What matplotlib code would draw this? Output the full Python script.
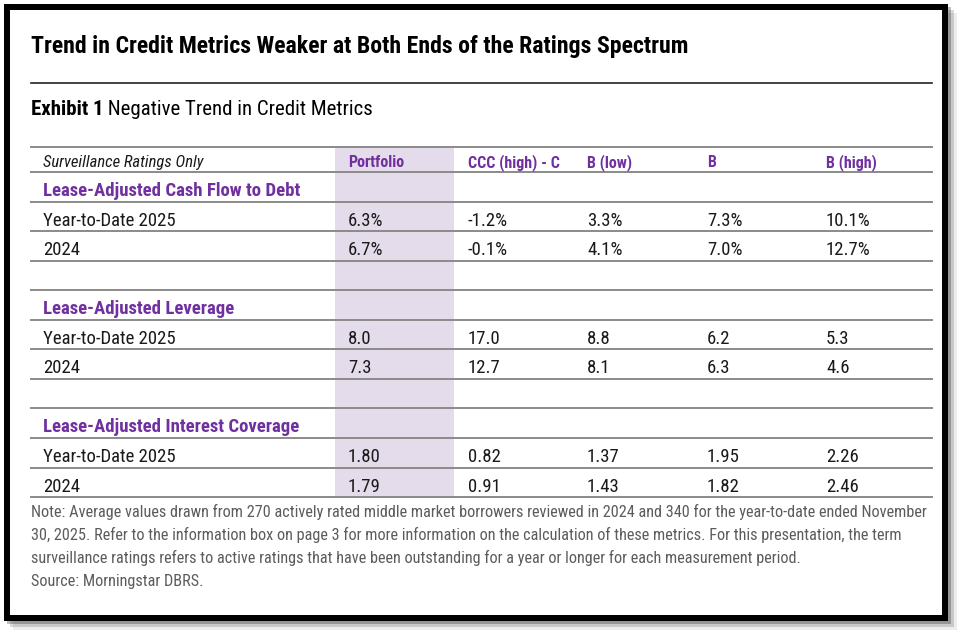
import matplotlib
matplotlib.use("Agg")
import matplotlib.pyplot as plt
from matplotlib.patches import Rectangle
from matplotlib import font_manager

names = {f.name for f in font_manager.fontManager.ttflist}
cands = ['Roboto Condensed', 'DejaVu Sans Condensed', 'Liberation Sans Narrow',
         'Open Sans Condensed', 'Roboto']
fam = [c for c in cands if c in names][:1] + ['DejaVu Sans']
plt.rcParams['font.family'] = fam

# ---------------- DATA ----------------
title = "Trend in Credit Metrics Weaker at Both Ends of the Ratings Spectrum"
exhibit_bold = "Exhibit 1"
exhibit_rest = " Negative Trend in Credit Metrics"
corner_label = "Surveillance Ratings Only"
columns = ["Portfolio", "CCC (high) - C", "B (low)", "B", "B (high)"]
periods = ["Year-to-Date 2025", "2024"]
sections = ["Lease-Adjusted Cash Flow to Debt",
            "Lease-Adjusted Leverage",
            "Lease-Adjusted Interest Coverage"]

cash_flow_ytd = [6.3, -1.2, 3.3, 7.3, 10.1]
cash_flow_2024 = [6.7, -0.1, 4.1, 7.0, 12.7]
leverage_ytd = [8.0, 17.0, 8.8, 6.2, 5.3]
leverage_2024 = [7.3, 12.7, 8.1, 6.3, 4.6]
coverage_ytd = [1.80, 0.82, 1.37, 1.95, 2.26]
coverage_2024 = [1.79, 0.91, 1.43, 1.82, 2.46]

note_lines = [
    "Note: Average values drawn from 270 actively rated middle market borrowers reviewed in 2024 and 340 for the year-to-date ended November",
    "30, 2025. Refer to the information box on page 3 for more information on the calculation of these metrics. For this presentation, the term",
    "surveillance ratings refers to active ratings that have been outstanding for a year or longer for each measurement period.",
    "Source: Morningstar DBRS.",
]

# ---------------- STYLE ----------------
purple = "#7030a0"
band_color = "#e4dcea"
line_color = "#8a8a8a"
text_color = "#1a1a1a"
note_color = "#5c5c5c"

fig = plt.figure(figsize=(9.62, 6.34), dpi=100)
ax = fig.add_axes([0, 0, 1, 1])
ax.set_xlim(0, 962)
ax.set_ylim(634, 0)
ax.axis("off")
renderer = fig.canvas.get_renderer()


def fit_size(s, target_px, max_size, **kw):
    # shrink font so the string is about as wide as in the reference
    t = ax.text(0, 0, s, fontsize=10, **kw)
    w = t.get_window_extent(renderer).width
    t.remove()
    return min(max_size, 10 * target_px / w)


# shadow + frame
for off, a in [(3, 0.25), (6, 0.15), (9, 0.07)]:
    ax.add_patch(Rectangle((4 + off, 4 + off), 944, 617, facecolor="#000000",
                           alpha=a, edgecolor="none", zorder=0))
ax.add_patch(Rectangle((4, 4), 944, 617, facecolor="black", edgecolor="none", zorder=1))
ax.add_patch(Rectangle((10, 10), 932, 605, facecolor="white", edgecolor="none", zorder=2))

left, right = 31, 932
title_fs = fit_size(title, 659, 18, fontweight="bold")
ax.text(left, 53, title, fontsize=title_fs, fontweight="bold", color="black", zorder=5)
ax.plot([left, right], [83, 83], color="#222222", lw=1.2, zorder=4)

ex_fs = min(fit_size(exhibit_bold + exhibit_rest, 342, 15), 15)
t = ax.text(left, 115, exhibit_bold, fontsize=ex_fs, fontweight="bold", color="black", zorder=5)
bb = t.get_window_extent(renderer)
ax.text(left + bb.width, 115, exhibit_rest, fontsize=ex_fs, color="black", zorder=5)

# table geometry
label_x = 43
col_x = [348, 468, 587, 707, 826]
head_top, head_bot, row_h = 147, 172, 29.55

head_fs = fit_size(columns[1], 92, 12, fontweight="bold")
corner_fs = fit_size(corner_label, 161, 12, style="italic")
sec_fs = fit_size(sections[0], 262, 13.5, fontweight="bold")
body_fs = fit_size(periods[0], 132, 14)

rows = []
block_values = [(cash_flow_ytd, cash_flow_2024, "{:.1f}%"),
                (leverage_ytd, leverage_2024, "{:.1f}"),
                (coverage_ytd, coverage_2024, "{:.2f}")]
for i, sec in enumerate(sections):
    ytd, prev, fmt = block_values[i]
    rows.append(("section", sec, None))
    rows.append(("data", periods[0], [fmt.format(v) for v in ytd]))
    rows.append(("data", periods[1], [fmt.format(v) for v in prev]))
    if i < len(sections) - 1:
        rows.append(("blank", "", None))

table_bottom = head_bot + row_h * len(rows)
ax.add_patch(Rectangle((335, head_top), 119, table_bottom - head_top,
                       facecolor=band_color, edgecolor="none", zorder=3))

# header
ax.plot([left, right], [head_top, head_top], color=line_color, lw=1.4, zorder=4)
ax.plot([left, right], [head_bot, head_bot], color=line_color, lw=1.4, zorder=4)
ax.text(label_x, head_bot - 5, corner_label, fontsize=corner_fs, style="italic",
        color=text_color, zorder=5)
for x, c in zip(col_x, columns):
    ax.text(x, head_bot - 5, c, fontsize=head_fs, fontweight="bold", color=purple, zorder=5)

# body
for r, (kind, label, vals) in enumerate(rows):
    y_line = head_bot + row_h * (r + 1)
    ax.plot([left, right], [y_line, y_line], color=line_color, lw=1.4, zorder=4)
    base = y_line - 5.5
    if kind == "section":
        ax.text(label_x, base, label, fontsize=sec_fs, fontweight="bold", color=purple, zorder=5)
    elif kind == "data":
        ax.text(label_x, base, label, fontsize=body_fs, color=text_color, zorder=5)
        for x, v in zip(col_x, vals):
            ax.text(x, base, v, fontsize=body_fs, color=text_color, zorder=5)

# notes
note_fs = fit_size(note_lines[0], 891, 12)
for i, ln in enumerate(note_lines):
    ax.text(left, 517 + 23 * i, ln, fontsize=note_fs, color=note_color, zorder=5)

fig.savefig("out.png", dpi=100)
